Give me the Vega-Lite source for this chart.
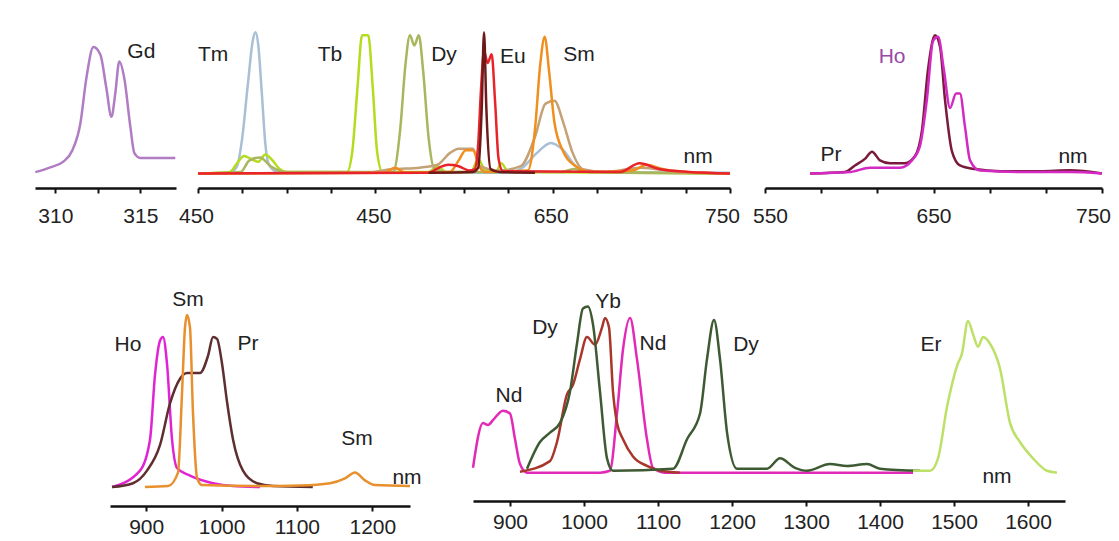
{
  "$schema": "https://vega.github.io/schema/vega-lite/v6.json",
  "background": "white",
  "padding": {"left": 30, "top": 27, "right": 5, "bottom": 5},
  "config": {
    "view": {"stroke": null},
    "font": "Liberation Sans",
    "axis": {
      "grid": false, "title": null,
      "domainColor": "#111", "domainWidth": 2.5,
      "tickColor": "#111", "tickWidth": 2, "tickSize": 5,
      "labelFont": "Liberation Sans", "labelFontSize": 21, "labelColor": "#222",
      "labelOverlap": false, "labelFlush": false, "labelBound": false, "labelPadding": 9
    },
    "text": {"font": "Liberation Sans", "fontSize": 21, "color": "#222"},
    "line": {"strokeWidth": 2.5, "interpolate": "monotone"}
  },
  "datasets": {
    "gd": [
      {"s":"Gd","nm":308.82,"v":0.9},{"s":"Gd","nm":309.7,"v":4.2},{"s":"Gd","nm":310.47,"v":8.1},{"s":"Gd","nm":311.0,"v":16},
      {"s":"Gd","nm":311.47,"v":34.4},{"s":"Gd","nm":311.82,"v":65.2},{"s":"Gd","nm":312.24,"v":86.9},{"s":"Gd","nm":312.65,"v":81.6},
      {"s":"Gd","nm":313.0,"v":58.7},{"s":"Gd","nm":313.3,"v":39},{"s":"Gd","nm":313.53,"v":55.4},{"s":"Gd","nm":313.76,"v":77},
      {"s":"Gd","nm":314.06,"v":65.2},{"s":"Gd","nm":314.41,"v":32.4},{"s":"Gd","nm":314.65,"v":14},{"s":"Gd","nm":315.0,"v":10.7},
      {"s":"Gd","nm":317.06,"v":10.7}
    ],
    "vis": [
      {"s":"Tm","nm":450,"v":0},{"s":"Tm","nm":468,"v":0.5},{"s":"Tm","nm":472,"v":5},{"s":"Tm","nm":475,"v":25},{"s":"Tm","nm":478,"v":60},
      {"s":"Tm","nm":481,"v":92},{"s":"Tm","nm":482.5,"v":97},{"s":"Tm","nm":484,"v":88},{"s":"Tm","nm":486,"v":55},{"s":"Tm","nm":488,"v":20},
      {"s":"Tm","nm":490,"v":6},{"s":"Tm","nm":494,"v":1.5},{"s":"Tm","nm":505,"v":0.5},{"s":"Tm","nm":625,"v":0.5},{"s":"Tm","nm":633,"v":4},
      {"s":"Tm","nm":641,"v":14},{"s":"Tm","nm":649,"v":21},{"s":"Tm","nm":656,"v":16},{"s":"Tm","nm":663,"v":5},{"s":"Tm","nm":672,"v":1},{"s":"Tm","nm":750,"v":0.5},

      {"s":"Tb","nm":450,"v":0},{"s":"Tb","nm":468,"v":1},{"s":"Tb","nm":472,"v":7},{"s":"Tb","nm":476,"v":12},{"s":"Tb","nm":480,"v":10},
      {"s":"Tb","nm":484,"v":8},{"s":"Tb","nm":488,"v":13},{"s":"Tb","nm":492,"v":9},{"s":"Tb","nm":496,"v":3},{"s":"Tb","nm":500,"v":1},
      {"s":"Tb","nm":534,"v":1},{"s":"Tb","nm":537,"v":15},{"s":"Tb","nm":540,"v":60},{"s":"Tb","nm":542.5,"v":95},{"s":"Tb","nm":546,"v":95},
      {"s":"Tb","nm":548.5,"v":60},{"s":"Tb","nm":551,"v":15},{"s":"Tb","nm":554,"v":1},{"s":"Tb","nm":580,"v":1},{"s":"Tb","nm":585,"v":5},
      {"s":"Tb","nm":590,"v":1},{"s":"Tb","nm":604,"v":1},{"s":"Tb","nm":608,"v":10},{"s":"Tb","nm":612,"v":2},{"s":"Tb","nm":618,"v":1},
      {"s":"Tb","nm":621,"v":7},{"s":"Tb","nm":625,"v":1},{"s":"Tb","nm":750,"v":0},

      {"s":"Dy","nm":450,"v":0},{"s":"Dy","nm":474,"v":1},{"s":"Dy","nm":479,"v":9},{"s":"Dy","nm":485,"v":11},{"s":"Dy","nm":491,"v":5},
      {"s":"Dy","nm":500,"v":1},{"s":"Dy","nm":560,"v":1},{"s":"Dy","nm":564,"v":30},{"s":"Dy","nm":567,"v":75},{"s":"Dy","nm":569.5,"v":95},
      {"s":"Dy","nm":572,"v":88},{"s":"Dy","nm":574.5,"v":95},{"s":"Dy","nm":577,"v":70},{"s":"Dy","nm":580,"v":25},{"s":"Dy","nm":583,"v":4},
      {"s":"Dy","nm":590,"v":1},{"s":"Dy","nm":655,"v":1},{"s":"Dy","nm":662,"v":3},{"s":"Dy","nm":670,"v":1},{"s":"Dy","nm":750,"v":0},

      {"s":"Sm2","nm":450,"v":0},{"s":"Sm2","nm":545,"v":0.5},{"s":"Sm2","nm":560,"v":3},{"s":"Sm2","nm":575,"v":4},{"s":"Sm2","nm":585,"v":6},
      {"s":"Sm2","nm":592,"v":14},{"s":"Sm2","nm":597,"v":17},{"s":"Sm2","nm":605,"v":17},{"s":"Sm2","nm":609,"v":5},{"s":"Sm2","nm":620,"v":2},
      {"s":"Sm2","nm":632,"v":5},{"s":"Sm2","nm":640,"v":25},{"s":"Sm2","nm":646,"v":48},{"s":"Sm2","nm":651,"v":50},{"s":"Sm2","nm":656,"v":35},
      {"s":"Sm2","nm":661,"v":15},{"s":"Sm2","nm":667,"v":3},{"s":"Sm2","nm":680,"v":1},{"s":"Sm2","nm":700,"v":4},{"s":"Sm2","nm":720,"v":1},{"s":"Sm2","nm":750,"v":0},

      {"s":"Sm","nm":450,"v":0},{"s":"Sm","nm":555,"v":0.5},{"s":"Sm","nm":561,"v":4},{"s":"Sm","nm":567,"v":0.5},{"s":"Sm","nm":592,"v":1},
      {"s":"Sm","nm":597,"v":9},{"s":"Sm","nm":601,"v":16},{"s":"Sm","nm":605,"v":16},{"s":"Sm","nm":609,"v":4},{"s":"Sm","nm":612,"v":1},
      {"s":"Sm","nm":636,"v":2},{"s":"Sm","nm":640,"v":30},{"s":"Sm","nm":643,"v":75},{"s":"Sm","nm":645.5,"v":94},{"s":"Sm","nm":648,"v":70},
      {"s":"Sm","nm":651,"v":35},{"s":"Sm","nm":656,"v":15},{"s":"Sm","nm":663,"v":5},{"s":"Sm","nm":672,"v":1},{"s":"Sm","nm":695,"v":2},
      {"s":"Sm","nm":703,"v":6},{"s":"Sm","nm":712,"v":3},{"s":"Sm","nm":725,"v":1},{"s":"Sm","nm":750,"v":0},

      {"s":"Eu","nm":450,"v":0},{"s":"Eu","nm":580,"v":0.5},{"s":"Eu","nm":586,"v":4},{"s":"Eu","nm":591,"v":6},{"s":"Eu","nm":597,"v":5},
      {"s":"Eu","nm":603,"v":2},{"s":"Eu","nm":606,"v":3},{"s":"Eu","nm":608,"v":20},{"s":"Eu","nm":609.6,"v":58},{"s":"Eu","nm":611.3,"v":84},
      {"s":"Eu","nm":613.3,"v":76},{"s":"Eu","nm":615.6,"v":82},{"s":"Eu","nm":617.5,"v":50},{"s":"Eu","nm":619.5,"v":10},{"s":"Eu","nm":622,"v":1.5},
      {"s":"Eu","nm":688,"v":1},{"s":"Eu","nm":699,"v":7},{"s":"Eu","nm":710,"v":3},{"s":"Eu","nm":727,"v":1},{"s":"Eu","nm":750,"v":0},

      {"s":"Eu2","nm":580,"v":0.5},{"s":"Eu2","nm":605,"v":1},{"s":"Eu2","nm":608,"v":4},{"s":"Eu2","nm":610,"v":45},{"s":"Eu2","nm":611.3,"v":97},
      {"s":"Eu2","nm":612.6,"v":45},{"s":"Eu2","nm":615,"v":3},{"s":"Eu2","nm":620,"v":1},{"s":"Eu2","nm":640,"v":0.5}
    ],
    "prho": [
      {"s":"Pr","nm":576.7,"v":0},{"s":"Pr","nm":597.5,"v":1},{"s":"Pr","nm":603.4,"v":5.5},{"s":"Pr","nm":609.3,"v":10},{"s":"Pr","nm":613.5,"v":15},
      {"s":"Pr","nm":618.2,"v":9},{"s":"Pr","nm":624.2,"v":7},{"s":"Pr","nm":633.1,"v":7},{"s":"Pr","nm":639,"v":12},{"s":"Pr","nm":643.2,"v":30},
      {"s":"Pr","nm":646.7,"v":71},{"s":"Pr","nm":650.9,"v":95},{"s":"Pr","nm":653.9,"v":87},{"s":"Pr","nm":656.8,"v":51},{"s":"Pr","nm":661,"v":15},
      {"s":"Pr","nm":665.7,"v":5.5},{"s":"Pr","nm":674.6,"v":3},{"s":"Pr","nm":689.5,"v":1.6},{"s":"Pr","nm":713.2,"v":1.6},{"s":"Pr","nm":731,"v":2.2},{"s":"Pr","nm":750,"v":0},
      {"s":"Ho","nm":576.7,"v":0},{"s":"Ho","nm":600.4,"v":1},{"s":"Ho","nm":612.3,"v":4},{"s":"Ho","nm":630.1,"v":4},{"s":"Ho","nm":637.2,"v":9},
      {"s":"Ho","nm":642,"v":19},{"s":"Ho","nm":646.1,"v":51},{"s":"Ho","nm":649.7,"v":91},{"s":"Ho","nm":652.7,"v":94},{"s":"Ho","nm":656.2,"v":71},
      {"s":"Ho","nm":659.8,"v":45},{"s":"Ho","nm":663.4,"v":55},{"s":"Ho","nm":665.7,"v":55},{"s":"Ho","nm":668.7,"v":32},{"s":"Ho","nm":671.7,"v":9},
      {"s":"Ho","nm":677.6,"v":2},{"s":"Ho","nm":701.3,"v":1},{"s":"Ho","nm":731,"v":1},{"s":"Ho","nm":750,"v":0}
    ],
    "nir1": [
      {"s":"Ho","nm":854.7,"v":0},{"s":"Ho","nm":891.8,"v":8.6},{"s":"Ho","nm":905.1,"v":25},{"s":"Ho","nm":911.7,"v":59},{"s":"Ho","nm":918.3,"v":77},
      {"s":"Ho","nm":922.3,"v":79},{"s":"Ho","nm":927.6,"v":65},{"s":"Ho","nm":934.3,"v":25},{"s":"Ho","nm":940.9,"v":10},{"s":"Ho","nm":958.1,"v":6},
      {"s":"Ho","nm":988.7,"v":2},{"s":"Ho","nm":1015.2,"v":0.5},{"s":"Ho","nm":1051,"v":0},
      {"s":"Pr","nm":854.7,"v":0},{"s":"Pr","nm":882.5,"v":2},{"s":"Pr","nm":901.1,"v":8.6},{"s":"Pr","nm":918.3,"v":22},{"s":"Pr","nm":931.6,"v":44},
      {"s":"Pr","nm":944.9,"v":57},{"s":"Pr","nm":954.2,"v":60},{"s":"Pr","nm":971.4,"v":60},{"s":"Pr","nm":982,"v":69},{"s":"Pr","nm":988.7,"v":79},
      {"s":"Pr","nm":994,"v":78},{"s":"Pr","nm":1000.6,"v":65},{"s":"Pr","nm":1007.2,"v":45},{"s":"Pr","nm":1015.2,"v":25},{"s":"Pr","nm":1028.4,"v":8.6},
      {"s":"Pr","nm":1047,"v":2},{"s":"Pr","nm":1068.2,"v":0.5},{"s":"Pr","nm":1121,"v":0},
      {"s":"Sm","nm":898.4,"v":0},{"s":"Sm","nm":929,"v":0.5},{"s":"Sm","nm":942.2,"v":7.6},{"s":"Sm","nm":947.5,"v":49},{"s":"Sm","nm":951.5,"v":84},
      {"s":"Sm","nm":954.2,"v":90.5},{"s":"Sm","nm":958.1,"v":84},{"s":"Sm","nm":962.1,"v":39},{"s":"Sm","nm":967.4,"v":5},{"s":"Sm","nm":974,"v":1},
      {"s":"Sm","nm":1051,"v":0.5},{"s":"Sm","nm":1104,"v":0.8},{"s":"Sm","nm":1143.9,"v":2},{"s":"Sm","nm":1163.8,"v":4.5},{"s":"Sm","nm":1177,"v":7.6},
      {"s":"Sm","nm":1190.3,"v":3.5},{"s":"Sm","nm":1203.6,"v":1},{"s":"Sm","nm":1250,"v":0.5}
    ],
    "nir2": [
      {"s":"Nd","nm":850,"v":7.9},{"s":"Nd","nm":863.5,"v":32},{"s":"Nd","nm":870.3,"v":31},{"s":"Nd","nm":877,"v":33.6},{"s":"Nd","nm":890.5,"v":38.7},
      {"s":"Nd","nm":900,"v":37.2},{"s":"Nd","nm":906.8,"v":23.3},{"s":"Nd","nm":913.5,"v":9.9},{"s":"Nd","nm":923,"v":5.3},{"s":"Nd","nm":1021.6,"v":5.3},
      {"s":"Nd","nm":1035,"v":6.3},{"s":"Nd","nm":1044.6,"v":37.2},{"s":"Nd","nm":1052.7,"v":71.7},{"s":"Nd","nm":1062.2,"v":88.7},{"s":"Nd","nm":1071.6,"v":66.5},
      {"s":"Nd","nm":1085.1,"v":23.3},{"s":"Nd","nm":1093.2,"v":7.9},{"s":"Nd","nm":1109.5,"v":5.3},{"s":"Nd","nm":1444.6,"v":5.3},
      {"s":"Yb","nm":913.5,"v":5.8},{"s":"Yb","nm":954,"v":11.5},{"s":"Yb","nm":963.5,"v":21.8},{"s":"Yb","nm":977,"v":47.5},{"s":"Yb","nm":985.1,"v":52.6},
      {"s":"Yb","nm":994.6,"v":66.5},{"s":"Yb","nm":1004,"v":78.4},{"s":"Yb","nm":1014.9,"v":74.3},{"s":"Yb","nm":1024.3,"v":83.5},{"s":"Yb","nm":1028.4,"v":88.7},
      {"s":"Yb","nm":1033.8,"v":83.5},{"s":"Yb","nm":1039.2,"v":49},{"s":"Yb","nm":1044.6,"v":32.1},{"s":"Yb","nm":1052.7,"v":23.3},{"s":"Yb","nm":1066.2,"v":14},
      {"s":"Yb","nm":1085.1,"v":8.9},{"s":"Yb","nm":1102.7,"v":6.3},{"s":"Yb","nm":1129.7,"v":5.3},
      {"s":"Dy","nm":923,"v":7.4},{"s":"Dy","nm":940.5,"v":21.8},{"s":"Dy","nm":954,"v":26.9},{"s":"Dy","nm":967.6,"v":32.1},{"s":"Dy","nm":981.1,"v":49},
      {"s":"Dy","nm":990.5,"v":74.8},{"s":"Dy","nm":998.6,"v":93.8},{"s":"Dy","nm":1005.4,"v":94.9},{"s":"Dy","nm":1012.2,"v":85.1},{"s":"Dy","nm":1021.6,"v":49},
      {"s":"Dy","nm":1031.1,"v":13},{"s":"Dy","nm":1039.2,"v":6.3},{"s":"Dy","nm":1120.3,"v":7.4},{"s":"Dy","nm":1139.2,"v":23.3},{"s":"Dy","nm":1156.8,"v":37.2},
      {"s":"Dy","nm":1166.2,"v":66.5},{"s":"Dy","nm":1175.7,"v":87.6},{"s":"Dy","nm":1183.8,"v":66.5},{"s":"Dy","nm":1193.3,"v":26.9},{"s":"Dy","nm":1206.8,"v":7.4},
      {"s":"Dy","nm":1247.3,"v":7.4},{"s":"Dy","nm":1264.9,"v":13},{"s":"Dy","nm":1285.1,"v":7.9},{"s":"Dy","nm":1301.4,"v":6.3},{"s":"Dy","nm":1332.4,"v":9.9},
      {"s":"Dy","nm":1355.4,"v":8.9},{"s":"Dy","nm":1382.4,"v":9.9},{"s":"Dy","nm":1400,"v":7.4},{"s":"Dy","nm":1454,"v":6.3},
      {"s":"Er","nm":1444.6,"v":6.3},{"s":"Er","nm":1467.6,"v":6.3},{"s":"Er","nm":1478.4,"v":13},{"s":"Er","nm":1490.6,"v":40.8},{"s":"Er","nm":1504.1,"v":62.9},
      {"s":"Er","nm":1510.8,"v":69.6},{"s":"Er","nm":1518.9,"v":87.1},{"s":"Er","nm":1525.7,"v":80},{"s":"Er","nm":1532.5,"v":73.2},{"s":"Er","nm":1539.2,"v":78.4},
      {"s":"Er","nm":1548.7,"v":74.8},{"s":"Er","nm":1562.2,"v":61.4},{"s":"Er","nm":1575.7,"v":32.1},{"s":"Er","nm":1589.2,"v":21.8},{"s":"Er","nm":1606.8,"v":13},
      {"s":"Er","nm":1625.7,"v":6.3},{"s":"Er","nm":1639.2,"v":5.3}
    ],
    "labA": [{"t":"Gd","nm":315.06,"v":83.6}],
    "labB": [
      {"t":"Tm","nm":458.5,"v":81.6},{"t":"Tb","nm":524.4,"v":81.6},{"t":"Dy","nm":588.7,"v":81.6},
      {"t":"Eu","nm":627.6,"v":80.3},{"t":"Sm","nm":664.9,"v":81.6},{"t":"nm","nm":732,"v":11.4}
    ],
    "labC": [{"t":"Ho","nm":625.4,"v":80.3},{"t":"Pr","nm":589.2,"v":12.7},{"t":"nm","nm":732.8,"v":11.4}],
    "labD": [
      {"t":"Ho","nm":875.9,"v":74.9},{"t":"Sm","nm":955.5,"v":98.5},{"t":"Pr","nm":1035.1,"v":75.4},
      {"t":"Sm","nm":1179.7,"v":25.1},{"t":"nm","nm":1246,"v":4.5}
    ],
    "labE": [
      {"t":"Nd","nm":898.6,"v":46.5},{"t":"Dy","nm":947.3,"v":83.5},{"t":"Yb","nm":1032.4,"v":97.4},
      {"t":"Nd","nm":1093.3,"v":74.8},{"t":"Dy","nm":1218.9,"v":74.3},{"t":"Er","nm":1468.9,"v":74.3},{"t":"nm","nm":1558.1,"v":2.7}
    ]
  },
  "spacing": 62,
  "resolve": {"scale": {"x": "independent", "y": "independent", "color": "independent"}},
  "vconcat": [
    {
      "bounds": "flush",
      "spacing": 7,
      "resolve": {"scale": {"x": "independent", "y": "independent", "color": "independent"}},
      "hconcat": [
        {
          "width": 141, "height": 160,
          "layer": [
            {
              "data": {"name": "gd"},
              "mark": {"type": "line"},
              "encoding": {
                "x": {"field": "nm", "type": "quantitative", "scale": {"domain": [308.8, 317.1], "nice": false, "zero": false},
                      "axis": {"values": [310, 312.5, 315], "labelExpr": "datum.value % 5 == 0 ? format(datum.value, 'd') : ''", "labelPadding": 12}},
                "y": {"field": "v", "type": "quantitative", "scale": {"domain": [-5, 100]}, "axis": null},
                "color": {"field": "s", "type": "nominal", "scale": {"domain": ["Gd"], "range": ["#b07cc4"]}, "legend": null}
              }
            },
            {
              "data": {"name": "labA"},
              "mark": {"type": "text"},
              "encoding": {
                "x": {"field": "nm", "type": "quantitative"},
                "y": {"field": "v", "type": "quantitative"},
                "text": {"field": "t"}
              }
            }
          ]
        },
        {
          "width": 8, "height": 1,
          "data": {"values": []},
          "mark": {"type": "point", "opacity": 0},
          "encoding": {}
        },
        {
          "width": 532, "height": 160,
          "layer": [
            {
              "data": {"name": "vis"},
              "mark": {"type": "line"},
              "encoding": {
                "x": {"field": "nm", "type": "quantitative", "scale": {"domain": [450, 750], "nice": false, "zero": false},
                      "axis": {"values": [450,475,500,525,550,575,600,625,650,675,700,725,750],
                               "labelExpr": "datum.value == 550 ? '450' : ((datum.value - 450) % 100 == 0 ? format(datum.value, 'd') : '')",
                               "labelPadding": 12,
                               "labelOffset": {"condition": {"test": "datum.value == 750", "value": -8}, "value": -2}}},
                "y": {"field": "v", "type": "quantitative", "scale": {"domain": [-5, 100]}, "axis": null},
                "color": {"field": "s", "type": "nominal",
                          "scale": {"domain": ["Tm","Tb","Dy","Sm2","Sm","Eu","Eu2"],
                                    "range": ["#a9bfd6","#b4dc1e","#a9b65e","#c4a276","#f08e1e","#e8242a","#6e1a1a"]},
                          "legend": null}
              }
            },
            {
              "data": {"name": "labB"},
              "mark": {"type": "text"},
              "encoding": {
                "x": {"field": "nm", "type": "quantitative"},
                "y": {"field": "v", "type": "quantitative"},
                "text": {"field": "t"}
              }
            }
          ]
        },
        {
          "width": 21, "height": 1,
          "data": {"values": []},
          "mark": {"type": "point", "opacity": 0},
          "encoding": {}
        },
        {
          "width": 337, "height": 160,
          "layer": [
            {
              "data": {"name": "prho"},
              "mark": {"type": "line"},
              "encoding": {
                "x": {"field": "nm", "type": "quantitative", "scale": {"domain": [550, 750], "nice": false, "zero": false},
                      "axis": {"values": [550, 583.33, 616.67, 650, 683.33, 716.67, 750],
                               "labelExpr": "datum.value % 100 == 50 ? format(datum.value, 'd') : ''",
                               "labelPadding": 12,
                               "labelOffset": {"condition": [{"test": "datum.value == 550", "value": 5}, {"test": "datum.value == 750", "value": -9}], "value": 0}}},
                "y": {"field": "v", "type": "quantitative", "scale": {"domain": [-5, 100]}, "axis": null},
                "color": {"field": "s", "type": "nominal", "scale": {"domain": ["Ho","Pr"], "range": ["#d42ac4","#7a1a3c"]}, "legend": null}
              }
            },
            {
              "data": {"name": "labC"},
              "mark": {"type": "text"},
              "encoding": {
                "x": {"field": "nm", "type": "quantitative"},
                "y": {"field": "v", "type": "quantitative"},
                "text": {"field": "t"},
                "color": {"condition": {"test": "datum.t === 'Ho'", "value": "#9a48a6"}, "value": "#222"}
              }
            }
          ]
        }
      ]
    },
    {
      "bounds": "flush",
      "spacing": 11,
      "resolve": {"scale": {"x": "independent", "y": "independent", "color": "independent"}},
      "hconcat": [
        {
          "width": 64, "height": 1,
          "data": {"values": []},
          "mark": {"type": "point", "opacity": 0},
          "encoding": {}
        },
        {
          "width": 300, "height": 209,
          "layer": [
            {
              "data": {"name": "nir1"},
              "mark": {"type": "line"},
              "encoding": {
                "x": {"field": "nm", "type": "quantitative", "scale": {"domain": [852, 1250], "nice": false, "zero": false},
                      "axis": {"values": [900, 1000, 1100, 1200], "format": "d", "labelPadding": 5}},
                "y": {"field": "v", "type": "quantitative", "scale": {"domain": [-5, 100]}, "axis": null},
                "color": {"field": "s", "type": "nominal", "scale": {"domain": ["Pr","Ho","Sm"], "range": ["#5e2e30","#e024d4","#e8902e"]}, "legend": null}
              }
            },
            {
              "data": {"name": "labD"},
              "mark": {"type": "text"},
              "encoding": {
                "x": {"field": "nm", "type": "quantitative"},
                "y": {"field": "v", "type": "quantitative"},
                "text": {"field": "t"}
              }
            }
          ]
        },
        {
          "width": 41, "height": 1,
          "data": {"values": []},
          "mark": {"type": "point", "opacity": 0},
          "encoding": {}
        },
        {
          "width": 592, "height": 204,
          "layer": [
            {
              "data": {"name": "nir2"},
              "mark": {"type": "line"},
              "encoding": {
                "x": {"field": "nm", "type": "quantitative", "scale": {"domain": [850, 1650], "nice": false, "zero": false},
                      "axis": {"values": [900, 1000, 1100, 1200, 1300, 1400, 1500, 1600], "format": "d", "labelPadding": 5}},
                "y": {"field": "v", "type": "quantitative", "scale": {"domain": [-5, 100]}, "axis": null},
                "color": {"field": "s", "type": "nominal", "scale": {"domain": ["Er","Nd","Yb","Dy"], "range": ["#bce068","#e22ab8","#a8362a","#3e5a32"]}, "legend": null}
              }
            },
            {
              "data": {"name": "labE"},
              "mark": {"type": "text"},
              "encoding": {
                "x": {"field": "nm", "type": "quantitative"},
                "y": {"field": "v", "type": "quantitative"},
                "text": {"field": "t"}
              }
            }
          ]
        }
      ]
    }
  ]
}
